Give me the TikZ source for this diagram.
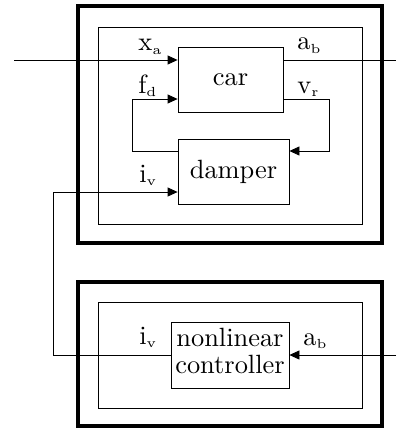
\documentclass[tikz,border=0pt]{standalone}
\usepackage{graphicx}
\usetikzlibrary{arrows.meta}
\newcommand\sbx[1]{\scalebox{2.64}{#1}}
\begin{document}
\begin{tikzpicture}[x=1pt,y=-1pt,
  line width=0.8pt,
  blk/.style={draw, line width=0.8pt, inner sep=0pt, align=center},
  frame/.style={draw, line width=4pt, inner sep=0pt},
  subframe/.style={draw, line width=0.8pt, inner sep=0pt},
  lbl/.style={anchor=base west, inner sep=0pt},
  arr/.style={-{Triangle[length=10pt,width=9pt]}}]
\useasboundingbox (0,0) rectangle (396,428);
% frames
\node[frame, minimum width=304pt, minimum height=237pt] (top) at (230,124.5) {};
\node[subframe, minimum width=264pt, minimum height=197pt] (topin) at (230,125.5) {};
\node[frame, minimum width=304pt, minimum height=144pt] (bot) at (230,354) {};
\node[subframe, minimum width=264pt, minimum height=106pt] (botin) at (230,355) {};
% blocks
\node[blk, minimum width=105pt, minimum height=65pt] (car) at (230.5,79.5) {\sbx{car}};
\node[blk, minimum width=111pt, minimum height=65pt] (damper) at (233.5,171.5) {\sbx{damper}};
\node[blk, minimum width=118pt, minimum height=66pt] (ctrl) at (230,355) {\sbx{\renewcommand\arraystretch{0.85}\begin{tabular}{@{}c@{}}nonlinear\\controller\end{tabular}}};
% coordinates
\coordinate (xin) at (14,60);
\coordinate (aout) at (396,60);
\coordinate (fd1) at (132,99);
\coordinate (fd2) at (132,151);
\coordinate (vr1) at (329,99);
\coordinate (vr2) at (329,151);
\coordinate (iv1) at (53,192);
\coordinate (iv2) at (53,355);
\coordinate (ain) at (396,355);
% connectors
\draw[arr] (xin) -- (xin -| car.west);
\draw (xin -| car.east) -- (aout);
\draw[arr] (fd2 -| damper.west) -- (fd2) -- (fd1) -- (fd1 -| car.west);
\draw[arr] (vr1 -| car.east) -- (vr1) -- (vr2) -- (vr2 -| damper.east);
\draw[arr] (ctrl.west) -- (iv2) -- (iv1) -- (iv1 -| damper.west);
\draw[arr] (ain) -- (ctrl.east);
% labels
\node[lbl] (lxa) at (138,51) {\sbx{x$_{\scriptscriptstyle\mathrm{a}}$}};
\node[lbl] (lab) at (297,50) {\sbx{a$_{\scriptscriptstyle\mathrm{b}}$}};
\node[lbl] (lfd) at (138,93) {\sbx{f$_{\scriptscriptstyle\mathrm{d}}$}};
\node[lbl] (lvr) at (297,93) {\sbx{v$_{\scriptscriptstyle\mathrm{r}}$}};
\node[lbl] (liv) at (139,182) {\sbx{i$_{\scriptscriptstyle\mathrm{v}}$}};
\node[lbl] (liv2) at (139,344) {\sbx{i$_{\scriptscriptstyle\mathrm{v}}$}};
\node[lbl] (lab2) at (303,345) {\sbx{a$_{\scriptscriptstyle\mathrm{b}}$}};
\end{tikzpicture}
\end{document}
